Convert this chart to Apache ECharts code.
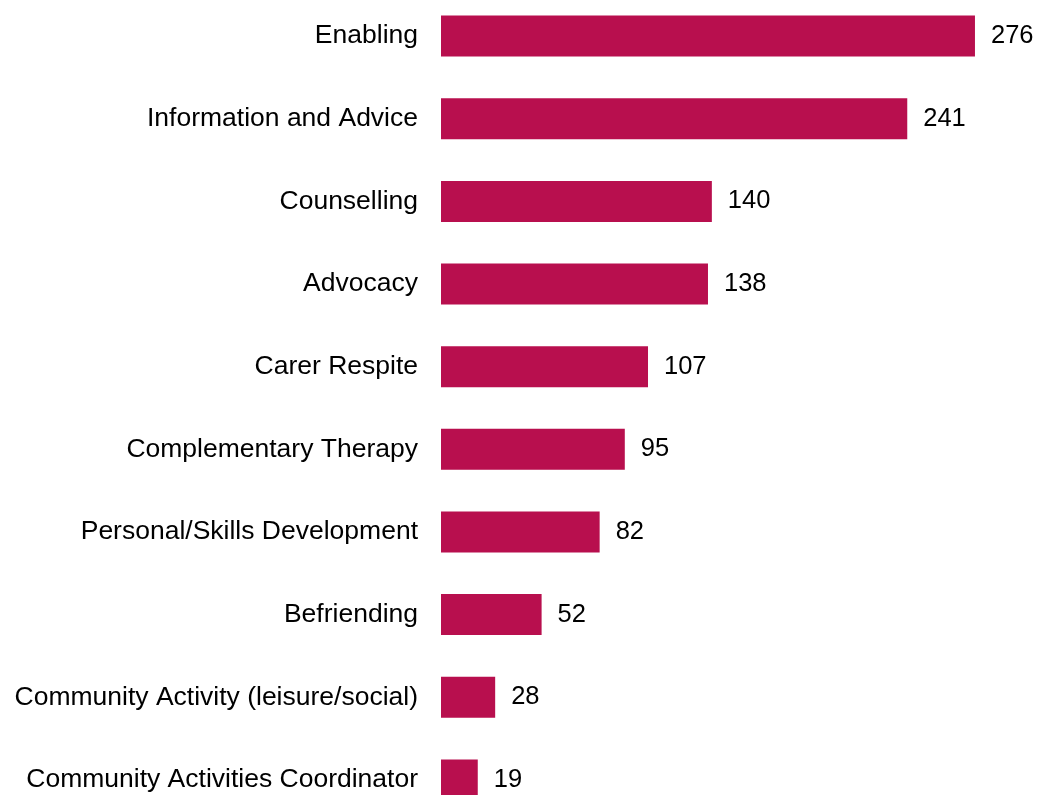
<!DOCTYPE html>
<html>
<head>
<meta charset="utf-8">
<script src="https://cdn.jsdelivr.net/npm/echarts@6/dist/echarts.min.js"></script>
<style>
  html, body { margin: 0; padding: 0; background: #fff; overflow: hidden; }
  /* chart box is taller than the window: the last bar is cut at the bottom edge */
  #chart { position: absolute; left: 0; top: -10px; width: 1038px; height: 850px; }
</style>
</head>
<body>
<div id="chart"></div>
<script>
// categories, top to bottom
const categories = [
  'Enabling',
  'Information and Advice',
  'Counselling',
  'Advocacy',
  'Carer Respite',
  'Complementary Therapy',
  'Personal/Skills Development',
  'Befriending',
  'Community Activity (leisure/social)',
  'Community Activities Coordinator'
]

// values per category
const counts = [276, 241, 140, 138, 107, 95, 82, 52, 28, 19]

const fontFamily = '"Liberation Sans", Arial, sans-serif'

const chart = echarts.init(document.getElementById('chart'))

chart.setOption({
  animation: false,
  grid: {
    left: 441,
    width: 580.4,
    top: 4.8,
    height: 826.4
  },
  xAxis: {
    type: 'value',
    min: 0,
    max: 300,
    show: false
  },
  yAxis: {
    type: 'category',
    data: categories,
    inverse: true,
    axisLine: { show: false },
    axisTick: { show: false },
    axisLabel: {
      margin: 23,
      fontSize: 26.5,
      color: '#000',
      fontFamily: fontFamily
    }
  },
  series: [
    {
      type: 'bar',
      data: counts,
      barWidth: 41,
      itemStyle: { color: '#B80F4E' },
      label: {
        show: true,
        position: 'right',
        distance: 16,
        fontSize: 25.5,
        color: '#000',
        fontFamily: fontFamily
      }
    }
  ]
})
</script>
</body>
</html>
